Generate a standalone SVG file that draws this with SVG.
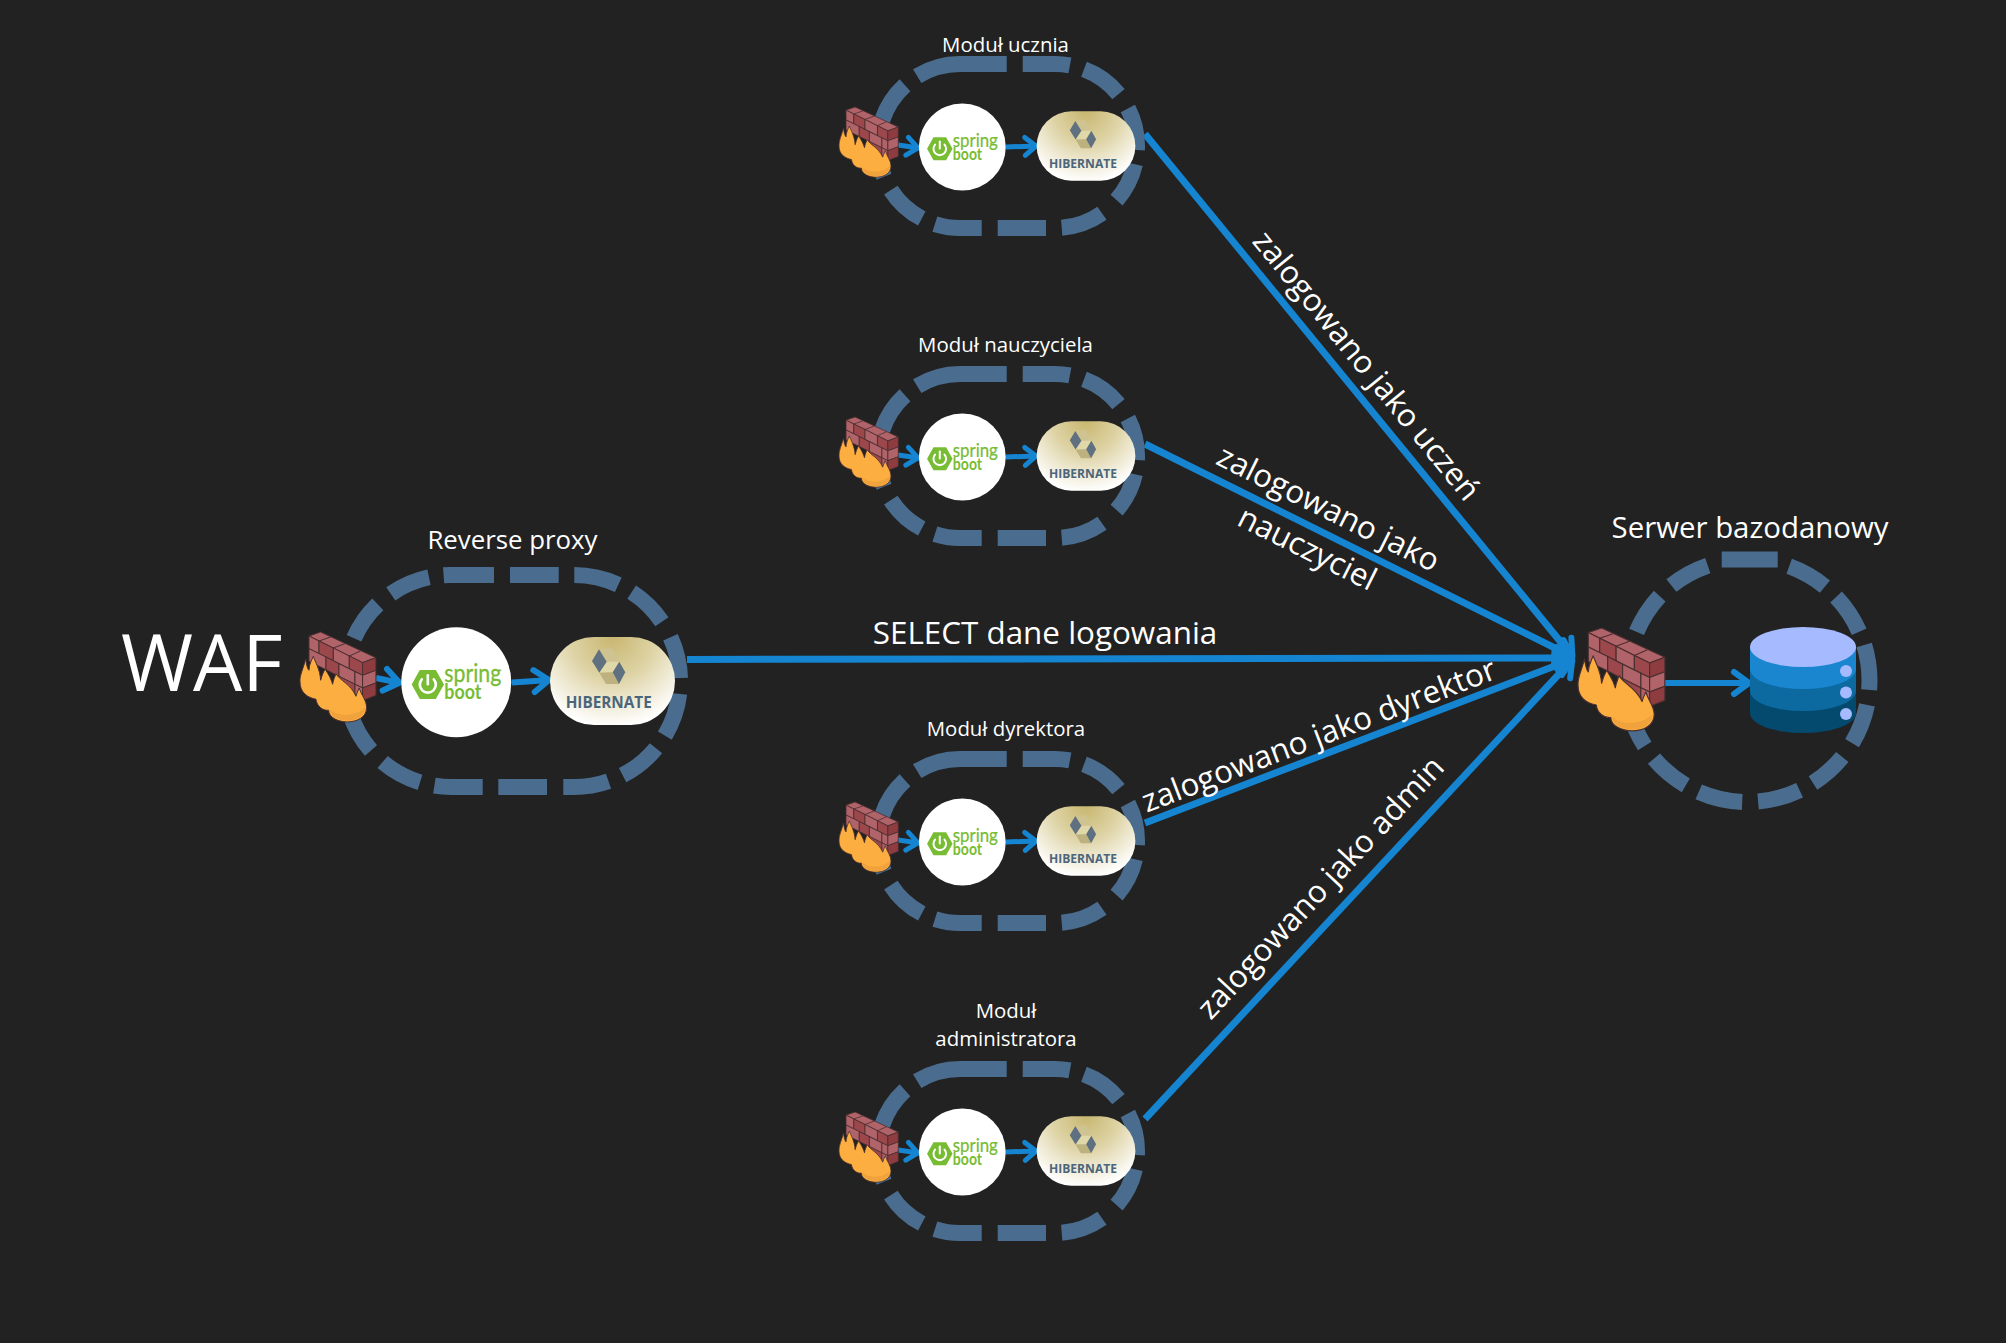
<svg xmlns="http://www.w3.org/2000/svg" width="2006" height="1343" viewBox="0 0 2006 1343">
<style>
text{font-family:"Open Sans","Noto Sans","Liberation Sans",sans-serif;fill:#fff}
.lbl{text-anchor:middle}
.s{font-size:20.4px}
.m{font-size:25.8px}
.e{font-size:31.4px}
.zone{fill:none;stroke:#4a6d8f;stroke-width:16}
.flow{fill:none;stroke:#1585d2;stroke-width:7}
.fb{fill:none;stroke:#1585d2;stroke-width:6}
.fs{fill:none;stroke:#1585d2;stroke-width:5}
.sp{fill:#77bc32;stroke:#77bc32;stroke-width:.3px;font-family:"Lato","Open Sans",sans-serif;font-size:25px}
.bt{fill:#77bc32;font-family:"Lato","Open Sans",sans-serif;font-weight:700;font-size:21px}
.hb{fill:#4b667b;font-weight:700;font-size:15.3px;text-anchor:middle}
</style>
<defs>
<marker id="ah" markerUnits="userSpaceOnUse" markerWidth="60" markerHeight="60" refX="30" refY="30" orient="auto" viewBox="0 0 60 60"><path d="M14,19L29,30L14,41" fill="none" stroke="#1585d2" stroke-width="6" stroke-linecap="round" stroke-linejoin="round"/></marker>
<marker id="as" markerUnits="userSpaceOnUse" markerWidth="60" markerHeight="60" refX="30" refY="30" orient="auto" viewBox="0 0 60 60"><path d="M18,21L29,30L18,39" fill="none" stroke="#1585d2" stroke-width="5" stroke-linecap="round" stroke-linejoin="round"/></marker>
<radialGradient id="hg" gradientUnits="userSpaceOnUse" cx="0" cy="-44" r="90">
<stop offset="0" stop-color="#c8b770"/><stop offset=".45" stop-color="#ddd2a3"/><stop offset="1" stop-color="#fff"/></radialGradient>
<g id="fw" stroke="#4a2f30" stroke-width="3" stroke-linejoin="round">
<polygon points="57,47 92,35 258,112 218,127" fill="#b06368"/>
<path d="M87,62L122,50M130,83L165,70M178,107L212,92" fill="none"/>
<polygon points="57,47 87,62 87,100 57,85" fill="#b06368"/>
<polygon points="87,62 130,83 130,121 87,100" fill="#9c474b"/>
<polygon points="130,83 178,107 178,145 130,121" fill="#b06368"/>
<polygon points="178,107 218,127 218,165 178,145" fill="#9c474b"/>
<polygon points="57,85 108,110 108,148 57,123" fill="#b06368"/>
<polygon points="108,110 147,130 147,168 108,148" fill="#9c474b"/>
<polygon points="147,130 195,154 195,192 147,168" fill="#b06368"/>
<polygon points="195,154 218,165 218,203 195,192" fill="#b06368"/>
<polygon points="147,168 195,192 195,230 147,206" fill="#9c474b"/>
<polygon points="195,192 218,203 218,241 195,230" fill="#b06368"/>
<polygon points="218,127 258,112 258,150 218,165" fill="#8f3c40"/>
<polygon points="218,165 258,150 258,188 218,203" fill="#b06368"/>
<polygon points="218,203 258,188 258,225 218,241" fill="#8f3c40"/>
<path d="M30,185C28,165 42,140 47,116C50,135 52,145 57,150C58,130 65,120 70,108C75,125 90,145 92,180C96,165 100,155 106,146C112,160 120,165 128,192C130,178 135,170 138,160C150,182 182,190 198,228C200,220 204,212 208,203C214,225 230,240 230,262C230,292 200,305 172,305C145,305 116,292 116,270C98,272 80,257 78,237C53,232 30,217 30,185Z" fill="#fdae40"/>
<path d="M120,268C135,285 190,295 226,262C222,290 200,301 172,301C145,301 122,290 120,268Z" fill="#f0a23c" stroke="none"/>
</g>
<g id="hbshape">
<rect x="-62.500" y="-44" width="125" height="88" rx="44" fill="url(#hg)"/>
<polygon points="-13.500,-31.700 -0.800,-32.700 6.800,-19.300 -5.800,-19.300" fill="#cfc391"/>
<polygon points="-5.800,-19.300 6.800,-19.300 0.200,-8.700 -13.200,-8.300" fill="#e0d8a8"/>
<polygon points="-13.200,-8.300 0.200,-8.700 6.500,3 -6.500,3" fill="#bdb27f"/>
<polygon points="-20.500,-20 -13.500,-31.700 -5.800,-19.300 -13.200,-8.300" fill="#5f7080"/>
<polygon points="0.200,-8.700 6.800,-19.300 12.800,-8.700 6.500,3" fill="#5f7080"/>
</g>
<g id="splogo">
<polygon points="-44.600,2.200 -36.500,-12.300 -20.500,-12.300 -12.300,2.200 -20.500,16.700 -36.500,16.700" fill="#77bc32"/>
<path d="M-34.500,-3A8,8 0 1 0 -22.500,-3" fill="none" stroke="#fff" stroke-width="2.600" stroke-linecap="round"/>
<path d="M-28.500,-7V2" fill="none" stroke="#fff" stroke-width="2.600" stroke-linecap="round"/>
</g>
<path id="zs" class="zone" d="M917.200,76.100A82,82 0 0 1 960,64H1006.700M1022.700,64H1055A82,82 0 0 1 1069.900,65.400M1084,69.300A82,82 0 0 1 1118.500,94.100M1127.900,108.500A82,82 0 0 1 1136.900,150M1134.900,164.300A82,82 0 0 1 1116.600,200.100M1102,213.200A82,82 0 0 1 1061.700,227.700M1046,228H997.700M981.700,228H960A82,82 0 0 1 934.900,224.100M921.800,218.500A82,82 0 0 1 890.800,190.100M884,176.700A82,82 0 0 1 878.800,134.600M882,120.700A82,82 0 0 1 905,85.200"/>
</defs>
<rect width="2006" height="1343" fill="#222222"/>

<g id="connectors">
<path class="flow" marker-end="url(#ah)" d="M687,659.500L1573,658"/>
<path class="flow" marker-end="url(#ah)" d="M1145,134L1573,657"/>
<path class="flow" marker-end="url(#ah)" d="M1145,444L1573,657"/>
<path class="flow" marker-end="url(#ah)" d="M1145,823L1573,659"/>
<path class="flow" marker-end="url(#ah)" d="M1145,1119L1573,659"/>
</g>

<g id="label-waf"><text x="121" y="691" font-size="78">WAF</text></g>

<g id="reverse-proxy">
<path class="zone" d="M443.600,575.300A106,106 0 0 1 451,575H494M510,575H558.700M574.300,575A106,106 0 0 1 618.300,584.700M631.700,592.100A106,106 0 0 1 661.900,621.700M670.500,637.200A106,106 0 0 1 680,678M679.200,693.900A106,106 0 0 1 664.900,735.600M656,748.200A106,106 0 0 1 622.600,775.200M608.500,781.200A106,106 0 0 1 574,787H563.300M547,787H498.300M482.700,787H451A106,106 0 0 1 434.400,785.700M420,782.400A106,106 0 0 1 382.600,762M371,750.500A106,106 0 0 1 349.800,712.500M346.200,697A106,106 0 0 1 348.500,654M354,638.200A106,106 0 0 1 377.800,604.400M390.800,593.800A106,106 0 0 1 429,577.300"/>
<path class="fb" marker-end="url(#ah)" d="M376,678L400.500,683"/>
<path class="fb" marker-end="url(#ah)" d="M512,682.500L550,680"/>
<use href="#fw" transform="translate(300,632) scale(.333) translate(-30,-35)"/>
<g transform="translate(456.300,682.300)"><circle r="55" fill="#fff"/><use href="#splogo"/>
<text class="sp" x="-12" y="0" textLength="57" lengthAdjust="spacingAndGlyphs">spring</text><text class="bt" x="-12" y="16.700" textLength="37" lengthAdjust="spacingAndGlyphs">boot</text></g>
<g transform="translate(612.500,681)"><use href="#hbshape"/><text class="hb" x="-3.800" y="27.300">HIBERNATE</text></g>
<text class="lbl m" x="512.500" y="549">Reverse proxy</text>
</g>

<g id="modul-ucznia">
<use href="#zs"/>
<path class="fs" marker-end="url(#as)" d="M898,145L919,148"/>
<path class="fs" marker-end="url(#as)" d="M1006,147L1037,146"/>
<use href="#fw" transform="translate(839,107) scale(.26) translate(-30,-35)"/>
<g transform="translate(962.300,147) scale(.79)"><circle r="55" fill="#fff"/><use href="#splogo"/><text class="sp" x="-12" y="0" textLength="57" lengthAdjust="spacingAndGlyphs">spring</text><text class="bt" x="-12" y="16.700" textLength="37" lengthAdjust="spacingAndGlyphs">boot</text></g>
<g transform="translate(1086,146) scale(.79)"><use href="#hbshape"/><text class="hb" x="-3.800" y="27.300">HIBERNATE</text></g>
<text class="lbl s" x="1005.500" y="52">Moduł ucznia</text>
</g>

<g id="modul-nauczyciela" transform="translate(0,310)">
<use href="#zs"/>
<path class="fs" marker-end="url(#as)" d="M898,145L919,148"/>
<path class="fs" marker-end="url(#as)" d="M1006,147L1037,146"/>
<use href="#fw" transform="translate(839,107) scale(.26) translate(-30,-35)"/>
<g transform="translate(962.300,147) scale(.79)"><circle r="55" fill="#fff"/><use href="#splogo"/><text class="sp" x="-12" y="0" textLength="57" lengthAdjust="spacingAndGlyphs">spring</text><text class="bt" x="-12" y="16.700" textLength="37" lengthAdjust="spacingAndGlyphs">boot</text></g>
<g transform="translate(1086,146) scale(.79)"><use href="#hbshape"/><text class="hb" x="-3.800" y="27.300">HIBERNATE</text></g>
<text class="lbl s" x="1005.500" y="42">Moduł nauczyciela</text>
</g>

<g id="modul-dyrektora" transform="translate(0,695)">
<use href="#zs"/>
<path class="fs" marker-end="url(#as)" d="M898,145L919,148"/>
<path class="fs" marker-end="url(#as)" d="M1006,147L1037,146"/>
<use href="#fw" transform="translate(839,107) scale(.26) translate(-30,-35)"/>
<g transform="translate(962.300,147) scale(.79)"><circle r="55" fill="#fff"/><use href="#splogo"/><text class="sp" x="-12" y="0" textLength="57" lengthAdjust="spacingAndGlyphs">spring</text><text class="bt" x="-12" y="16.700" textLength="37" lengthAdjust="spacingAndGlyphs">boot</text></g>
<g transform="translate(1086,146) scale(.79)"><use href="#hbshape"/><text class="hb" x="-3.800" y="27.300">HIBERNATE</text></g>
<text class="lbl s" x="1006" y="41">Moduł dyrektora</text>
</g>

<g id="modul-administratora" transform="translate(0,1005)">
<use href="#zs"/>
<path class="fs" marker-end="url(#as)" d="M898,145L919,148"/>
<path class="fs" marker-end="url(#as)" d="M1006,147L1037,146"/>
<use href="#fw" transform="translate(839,107) scale(.26) translate(-30,-35)"/>
<g transform="translate(962.300,147) scale(.79)"><circle r="55" fill="#fff"/><use href="#splogo"/><text class="sp" x="-12" y="0" textLength="57" lengthAdjust="spacingAndGlyphs">spring</text><text class="bt" x="-12" y="16.700" textLength="37" lengthAdjust="spacingAndGlyphs">boot</text></g>
<g transform="translate(1086,146) scale(.79)"><use href="#hbshape"/><text class="hb" x="-3.800" y="27.300">HIBERNATE</text></g>
<text class="lbl s" x="1006" y="13">Moduł</text>
<text class="lbl s" x="1006" y="41">administratora</text>
</g>

<g id="serwer-bazodanowy">
<path class="zone" d="M1721.700,559.500H1777.700M1789.200,566.300A122,121.500 0 0 1 1824.900,586.600M1836.100,597A122,121.500 0 0 1 1859.200,631.700M1864.200,645A122,121.500 0 0 1 1869.100,689.800M1867,704.900A122,121.500 0 0 1 1852.100,743.100M1842.300,757A122,121.500 0 0 1 1813,783M1799.600,790.300A122,121.500 0 0 1 1758.100,801.500M1742.200,801.900A122,121.500 0 0 1 1698.700,791.800M1685.800,785.300A122,121.500 0 0 1 1654,758.600M1644.700,746A122,121.500 0 0 1 1628.600,707.800M1626,691.100A122,121.500 0 0 1 1629.700,649M1636.600,631.900A122,121.500 0 0 1 1659.700,596.100M1671.400,585.500A122,121.500 0 0 1 1707.800,565.600"/>
<path class="fb" marker-end="url(#ah)" d="M1665,683L1750,683"/>
<use href="#fw" transform="translate(1578,628) scale(.381) translate(-30,-35)"/>
<g id="db-icon">
<path d="M1750,647V713A53,20 0 0 0 1856,713V647Z" fill="#04496e"/>
<path d="M1750,647V691A53,20 0 0 0 1856,691V647Z" fill="#0c6aa0"/>
<path d="M1750,647V669A53,20 0 0 0 1856,669V647Z" fill="#1a86d0"/>
<ellipse cx="1803" cy="647" rx="53" ry="20" fill="#a5baff"/>
<circle cx="1846" cy="671" r="6" fill="#a5baff"/><circle cx="1846" cy="692.500" r="6" fill="#a5baff"/><circle cx="1846" cy="714" r="6" fill="#a5baff"/>
</g>
<text class="lbl" x="1750" y="538" font-size="29.400">Serwer bazodanowy</text>
</g>

<g id="connector-labels">
<text class="lbl e" x="1045" y="644">SELECT dane logowania</text>
<text class="lbl e" transform="translate(1366,366) rotate(50.700)" y="10">zalogowano jako uczeń</text>
<text class="lbl e" transform="translate(1328,509) rotate(26.500)" y="10">zalogowano jako</text>
<text class="lbl e" transform="translate(1307,549) rotate(26.500)" y="10">nauczyciel</text>
<text class="lbl e" transform="translate(1319,736) rotate(-21)" y="10">zalogowano jako dyrektor</text>
<text class="lbl e" transform="translate(1321,888) rotate(-47)" y="10">zalogowano jako admin</text>
</g>
</svg>
